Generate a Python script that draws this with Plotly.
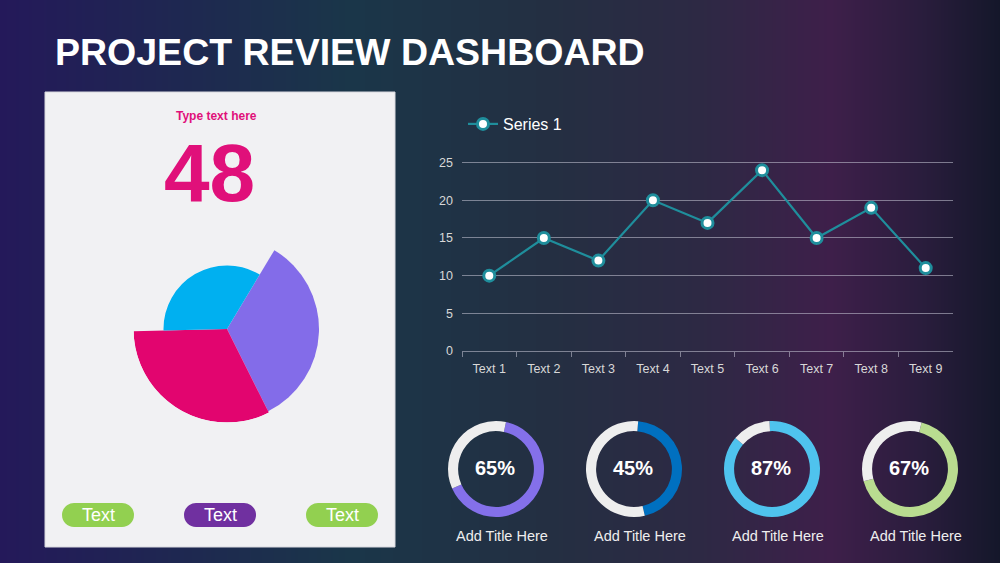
import plotly.graph_objects as go

# ---------------- data ----------------
title_text = "PROJECT REVIEW DASHBOARD"
kpi_caption = "Type text here"
kpi_value = 48

pie_shares = [34, 32, 34]
pie_radii = [92, 93.5, 63.5]
pie_colors = ["#836ce9", "#e2056f", "#00b0f0"]

button_labels = ["Text", "Text", "Text"]
button_colors = ["#92d050", "#7030a0", "#92d050"]

categories = ["Text 1", "Text 2", "Text 3", "Text 4", "Text 5",
              "Text 6", "Text 7", "Text 8", "Text 9"]
series_name = "Series 1"
series_values = [10, 15, 12, 20, 17, 24, 15, 19, 11]
y_ticks = [0, 5, 10, 15, 20, 25]

donut_values = [65, 45, 87, 67]
donut_titles = ["Add Title Here", "Add Title Here", "Add Title Here", "Add Title Here"]
donut_colors = ["#8470ea", "#0070c0", "#4fc3ee", "#b9dc90"]

# ---------------- styles ----------------
W, H = 1000, 563
FONT = "Liberation Sans, Arial, sans-serif"
bg_stops = [(0.0, "#24195a"), (0.15, "#1f2552"), (0.35, "#1a3649"),
            (0.55, "#242f42"), (0.70, "#2d2944"), (0.83, "#3e1f4a"),
            (0.92, "#2a1d3d"), (1.0, "#14172a")]
panel = dict(x0=45, x1=395, y0=92, y1=547, color="#f1f1f3")
magenta = "#e0107a"
teal = "#1f8e9c"


def px(x):
    return x / W


def py(y):
    return 1 - y / H


fig = go.Figure()

# background gradient (pixel coordinate axes)
bg_x = [i * 10 for i in range(101)]
fig.add_trace(go.Heatmap(x=bg_x, y=[0, H], z=[bg_x, bg_x], colorscale=bg_stops,
                         zmin=0, zmax=W, showscale=False, zsmooth="best",
                         hoverinfo="skip", xaxis="x", yaxis="y"))
# white panel
fig.add_trace(go.Scatter(x=[panel["x0"], panel["x1"], panel["x1"], panel["x0"], panel["x0"]],
                         y=[panel["y0"], panel["y0"], panel["y1"], panel["y1"], panel["y0"]],
                         fill="toself", fillcolor=panel["color"], mode="lines",
                         line=dict(color="#d8d8de", width=1), hoverinfo="skip",
                         showlegend=False, xaxis="x", yaxis="y"))

# line chart
fig.add_trace(go.Scatter(x=categories, y=series_values, name=series_name,
                         mode="lines+markers", xaxis="x2", yaxis="y2",
                         line=dict(color=teal, width=2.2),
                         marker=dict(size=11, color="white", line=dict(color=teal, width=3)),
                         showlegend=True))

# variable radius pie (barpolar)
start = 31
thetas, widths = [], []
cum = 0
for s in pie_shares:
    thetas.append(start + (cum + s / 2) * 3.6)
    widths.append(s * 3.6)
    cum += s
fig.add_trace(go.Barpolar(r=pie_radii, theta=thetas, width=widths,
                          marker=dict(color=pie_colors, line=dict(width=0)),
                          showlegend=False, hoverinfo="skip"))

# donuts
donut_cx = [496, 634, 772, 910]
donut_cy = 469
donut_r = 48
donut_rot = [12, 5, -3, 14]
for i, v in enumerate(donut_values):
    cx = donut_cx[i]
    fig.add_trace(go.Pie(values=[v, 100 - v], sort=False, direction="clockwise",
                         rotation=donut_rot[i], hole=0.79, textinfo="none",
                         marker=dict(colors=[donut_colors[i], "#eeeeee"], line=dict(width=0)),
                         domain=dict(x=[px(cx - donut_r), px(cx + donut_r)],
                                     y=[py(donut_cy + donut_r), py(donut_cy - donut_r)]),
                         showlegend=False, hoverinfo="skip"))

annotations = []
annotations.append(dict(text=f"<b>{title_text}</b>", x=px(53), y=py(52), xref="paper", yref="paper",
                        xanchor="left", yanchor="middle", showarrow=False,
                        font=dict(family=FONT, size=37.5, color="white")))
annotations.append(dict(text=f"<b>{kpi_caption}</b>", x=px(216), y=py(116), xref="paper", yref="paper",
                        xanchor="center", yanchor="middle", showarrow=False,
                        font=dict(family=FONT, size=12, color=magenta)))
annotations.append(dict(text=f"<b>{kpi_value}</b>", x=px(209), y=py(172), xref="paper", yref="paper",
                        xanchor="center", yanchor="middle", showarrow=False,
                        font=dict(family=FONT, size=82, color=magenta)))
for i, v in enumerate(donut_values):
    annotations.append(dict(text=f"<b>{v}%</b>", x=px(donut_cx[i] - 1), y=py(468), xref="paper", yref="paper",
                            xanchor="center", yanchor="middle", showarrow=False,
                            font=dict(family=FONT, size=20, color="white")))
    annotations.append(dict(text=donut_titles[i], x=px(donut_cx[i] + 6), y=py(536), xref="paper", yref="paper",
                            xanchor="center", yanchor="middle", showarrow=False,
                            font=dict(family=FONT, size=14.5, color="#eeeeee")))

# buttons
shapes = []
btn_x = [62, 184, 306]
btn_w, btn_h, btn_y = 72, 24, 503
k = 0.5523
for i, lab in enumerate(button_labels):
    x0, x1 = btn_x[i], btn_x[i] + btn_w
    y0, y1 = btn_y, btn_y + btn_h
    r = btn_h / 2
    ym = y0 + r
    path = (f"M {x0 + r} {y0} L {x1 - r} {y0} "
            f"C {x1 - r + k * r} {y0} {x1} {ym - k * r} {x1} {ym} "
            f"C {x1} {ym + k * r} {x1 - r + k * r} {y1} {x1 - r} {y1} "
            f"L {x0 + r} {y1} "
            f"C {x0 + r - k * r} {y1} {x0} {ym + k * r} {x0} {ym} "
            f"C {x0} {ym - k * r} {x0 + r - k * r} {y0} {x0 + r} {y0} Z")
    shapes.append(dict(type="path", path=path, xref="x", yref="y", layer="above",
                       fillcolor=button_colors[i], line=dict(width=0)))
    annotations.append(dict(text=lab, x=px((x0 + x1) / 2), y=py(ym), xref="paper", yref="paper",
                            xanchor="center", yanchor="middle", showarrow=False,
                            font=dict(family=FONT, size=18, color="white")))

grid_c = "rgba(200,200,215,0.55)"
fig.update_layout(
    width=W, height=H, margin=dict(l=0, r=0, t=0, b=0, pad=0, autoexpand=False),
    paper_bgcolor="#1e2540", plot_bgcolor="rgba(0,0,0,0)",
    xaxis=dict(domain=[0, 1], range=[0, W], visible=False, fixedrange=True, automargin=False),
    yaxis=dict(domain=[0, 1], range=[H, 0], visible=False, fixedrange=True, automargin=False),
    xaxis2=dict(domain=[px(462), px(953)], anchor="y2", type="category",
                range=[-0.5, len(categories) - 0.5], showgrid=False, automargin=False,
                showline=True, linecolor=grid_c, linewidth=1,
                ticks="outside", tickson="boundaries", ticklen=5, tickcolor=grid_c,
                ticklabelstandoff=6,
                tickfont=dict(family=FONT, size=12.5, color="#d8d8d8"), fixedrange=True),
    yaxis2=dict(domain=[py(351), py(161.5)], anchor="x2", range=[0, 25.15], automargin=False,
                tickvals=y_ticks, showgrid=True, gridcolor=grid_c, gridwidth=1,
                zeroline=False, showline=False, ticks="", ticklabelstandoff=8,
                tickfont=dict(family=FONT, size=12.5, color="#d8d8d8"), fixedrange=True),
    polar=dict(domain=dict(x=[px(227 - 93.5), px(227 + 93.5)],
                           y=[py(329 + 93.5), py(329 - 93.5)]),
               bgcolor="rgba(0,0,0,0)",
               radialaxis=dict(visible=False, range=[0, max(pie_radii)], showgrid=False),
               angularaxis=dict(visible=False, rotation=90, direction="clockwise", showgrid=False)),
    legend=dict(x=px(463), y=py(124), xanchor="left", yanchor="middle",
                bgcolor="rgba(0,0,0,0)", font=dict(family=FONT, size=16, color="white")),
    shapes=shapes, annotations=annotations, showlegend=True,
)

fig.write_html("out.html", config={"displayModeBar": False},
               post_script="document.body.style.margin='0px';")
